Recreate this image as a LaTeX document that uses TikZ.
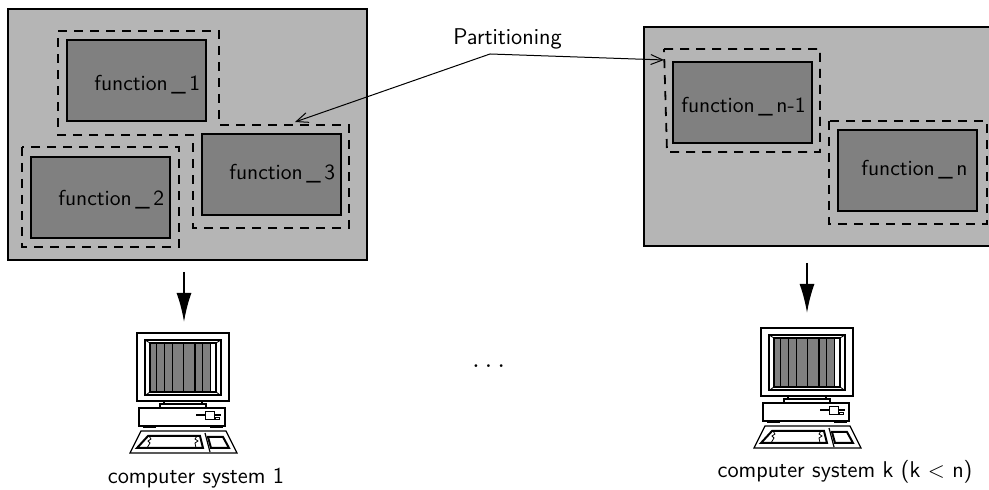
\documentclass[tikz,border=0pt]{standalone}
\usepackage{amsmath}
\usetikzlibrary{arrows,arrows.meta,calc,positioning}

\tikzset{
    outer box/.style={draw, line width=1.1pt, fill=black!29},
    function box/.style={draw, line width=1pt, fill=black!50, minimum width=69.5, minimum height=40.5, inner sep=0pt},
    dashed line/.style={dash pattern=on 4.5pt off 3.5pt, line width=0.9pt},
    label text/.style={font=\sffamily\fontsize{10.8}{13}\selectfont, inner sep=0pt, anchor=base west},
    caption text/.style={font=\sffamily\fontsize{11.4}{13}\selectfont, inner sep=0pt, anchor=base},
    thin arrow/.style={-{Straight Barb[length=6pt,width=5pt]}, line width=0.5pt},
    big arrow/.style={-{Latex[length=14.5pt,width=7.5pt]}, line width=1pt},
    pics/computer/.style={code={
        \draw[line width=0.6pt, fill=white] (0,0) rectangle (92,68);
        \draw[line width=1pt, fill=white] (8,7) rectangle (84,62.5);
        \fill[black!50] (13,10) rectangle (74,59);
        \draw[line width=0.7pt] (13,10) rectangle (79,59);
        \foreach \x in {19.5,27.5,35.5,46.5,58,65.5,73.5}
            \draw[line width=0.6pt] (\x,10) -- (\x,59);
        \draw[line width=0.4pt] (8,7) -- (13,10) (84,7) -- (79,10) (8,62.5) -- (13,59) (84,62.5) -- (79,59);
        \draw[line width=0.6pt] (27,68) rectangle (65,71);
        \draw[line width=0.6pt] (23,71) rectangle (69,75);
        \draw[line width=0.6pt] (2,75) rectangle (88,93);
        \fill (6,93) rectangle (19,95);
        \fill (73,93) rectangle (86,95);
        \draw[line width=0.8pt] (59,82) -- (84,82);
        \draw[line width=0.5pt, fill=white] (68,79) rectangle (77,87);
        \draw[line width=0.5pt] (78,85) rectangle (82,87);
        \draw[line width=0.6pt, fill=white] (4,98) -- (89,98) -- (100,120) -- (-7,120) -- cycle;
        \draw[line width=1pt] (11,103) -- (63,103) -- (66,115) -- (0,115) -- cycle;
        \draw[line width=0.4pt] (12,103) -- (14,106) -- (11,108) -- (13,110) -- (10,115);
        \draw[line width=0.4pt] (60,103) -- (58,106) -- (61,108) -- (58,110) -- (59,115);
        \draw[line width=0.6pt] (68,100) -- (73,119);
        \draw[line width=1pt] (71,104) -- (86,104) -- (92,115) -- (74,115) -- cycle;
    }}
}

\begin{document}
\begin{tikzpicture}[x=0.5pt, y=-0.5pt]
    \useasboundingbox (0,0) rectangle (989,490);

    % first group
    \draw[outer box] (8,9) rectangle (367,260);
    \draw[dashed line] (58,31) -- (219,31) -- (219,125) -- (349,125) -- (349,228) -- (193,228) -- (193,135) -- (58,135) -- cycle;
    \draw[dashed line] (22,147) rectangle (179,247);
    \node (fa) [function box] at (136.5,80.5) {};
    \node (fb) [function box] at (100.5,197.5) {};
    \node (fc) [function box] at (271,174.5) {};
    \node (fat) [label text] at (94,91) {function\,\_\,1};
    \node (fbt) [label text] at (58,206) {function\,\_\,2};
    \node (fct) [label text] at (229,180) {function\,\_\,3};

    % second group
    \draw[outer box] (644,27) rectangle (1000,246);
    \draw[dashed line] (664,49) -- (820,49) -- (820,152) -- (667,152) -- cycle;
    \draw[dashed line] (829,121) rectangle (987,224);
    \node (fm) [function box] at (742,103) {};
    \node (fn) [function box] at (907.5,170.5) {};
    \node (fmt) [label text] at (681,113) {function\,\_\,n-1};
    \node (fnt) [label text] at (861,176) {function\,\_\,n};

    % partitioning arrows
    \node (part) [caption text] at (507.5,45) {Partitioning};
    \coordinate (fork) at (490,54);
    \coordinate (tipl) at (295,122);
    \coordinate (tipr) at (664,60);
    \draw[thin arrow] (fork) -- (tipl);
    \draw[thin arrow] (fork) -- (tipr);

    % computers
    \coordinate (arrowla) at (184,272);
    \coordinate (arrowlb) at (184,322);
    \coordinate (arrowra) at (807,263);
    \coordinate (arrowrb) at (807,313);
    \draw[big arrow] (arrowla) -- (arrowlb);
    \draw[big arrow] (arrowra) -- (arrowrb);
    \pic (pca) at (137,333) {computer};
    \pic (pcb) at (761,328) {computer};
    \node (pcat) [caption text] at (196,484) {computer system 1};
    \node (pcbt) [caption text] at (845,478) {computer system k (k $<$ n)};
    \node (dots) [anchor=base, inner sep=0pt, font=\fontsize{15}{18}\selectfont] at (491,368) {$\dots$};
\end{tikzpicture}
\end{document}
